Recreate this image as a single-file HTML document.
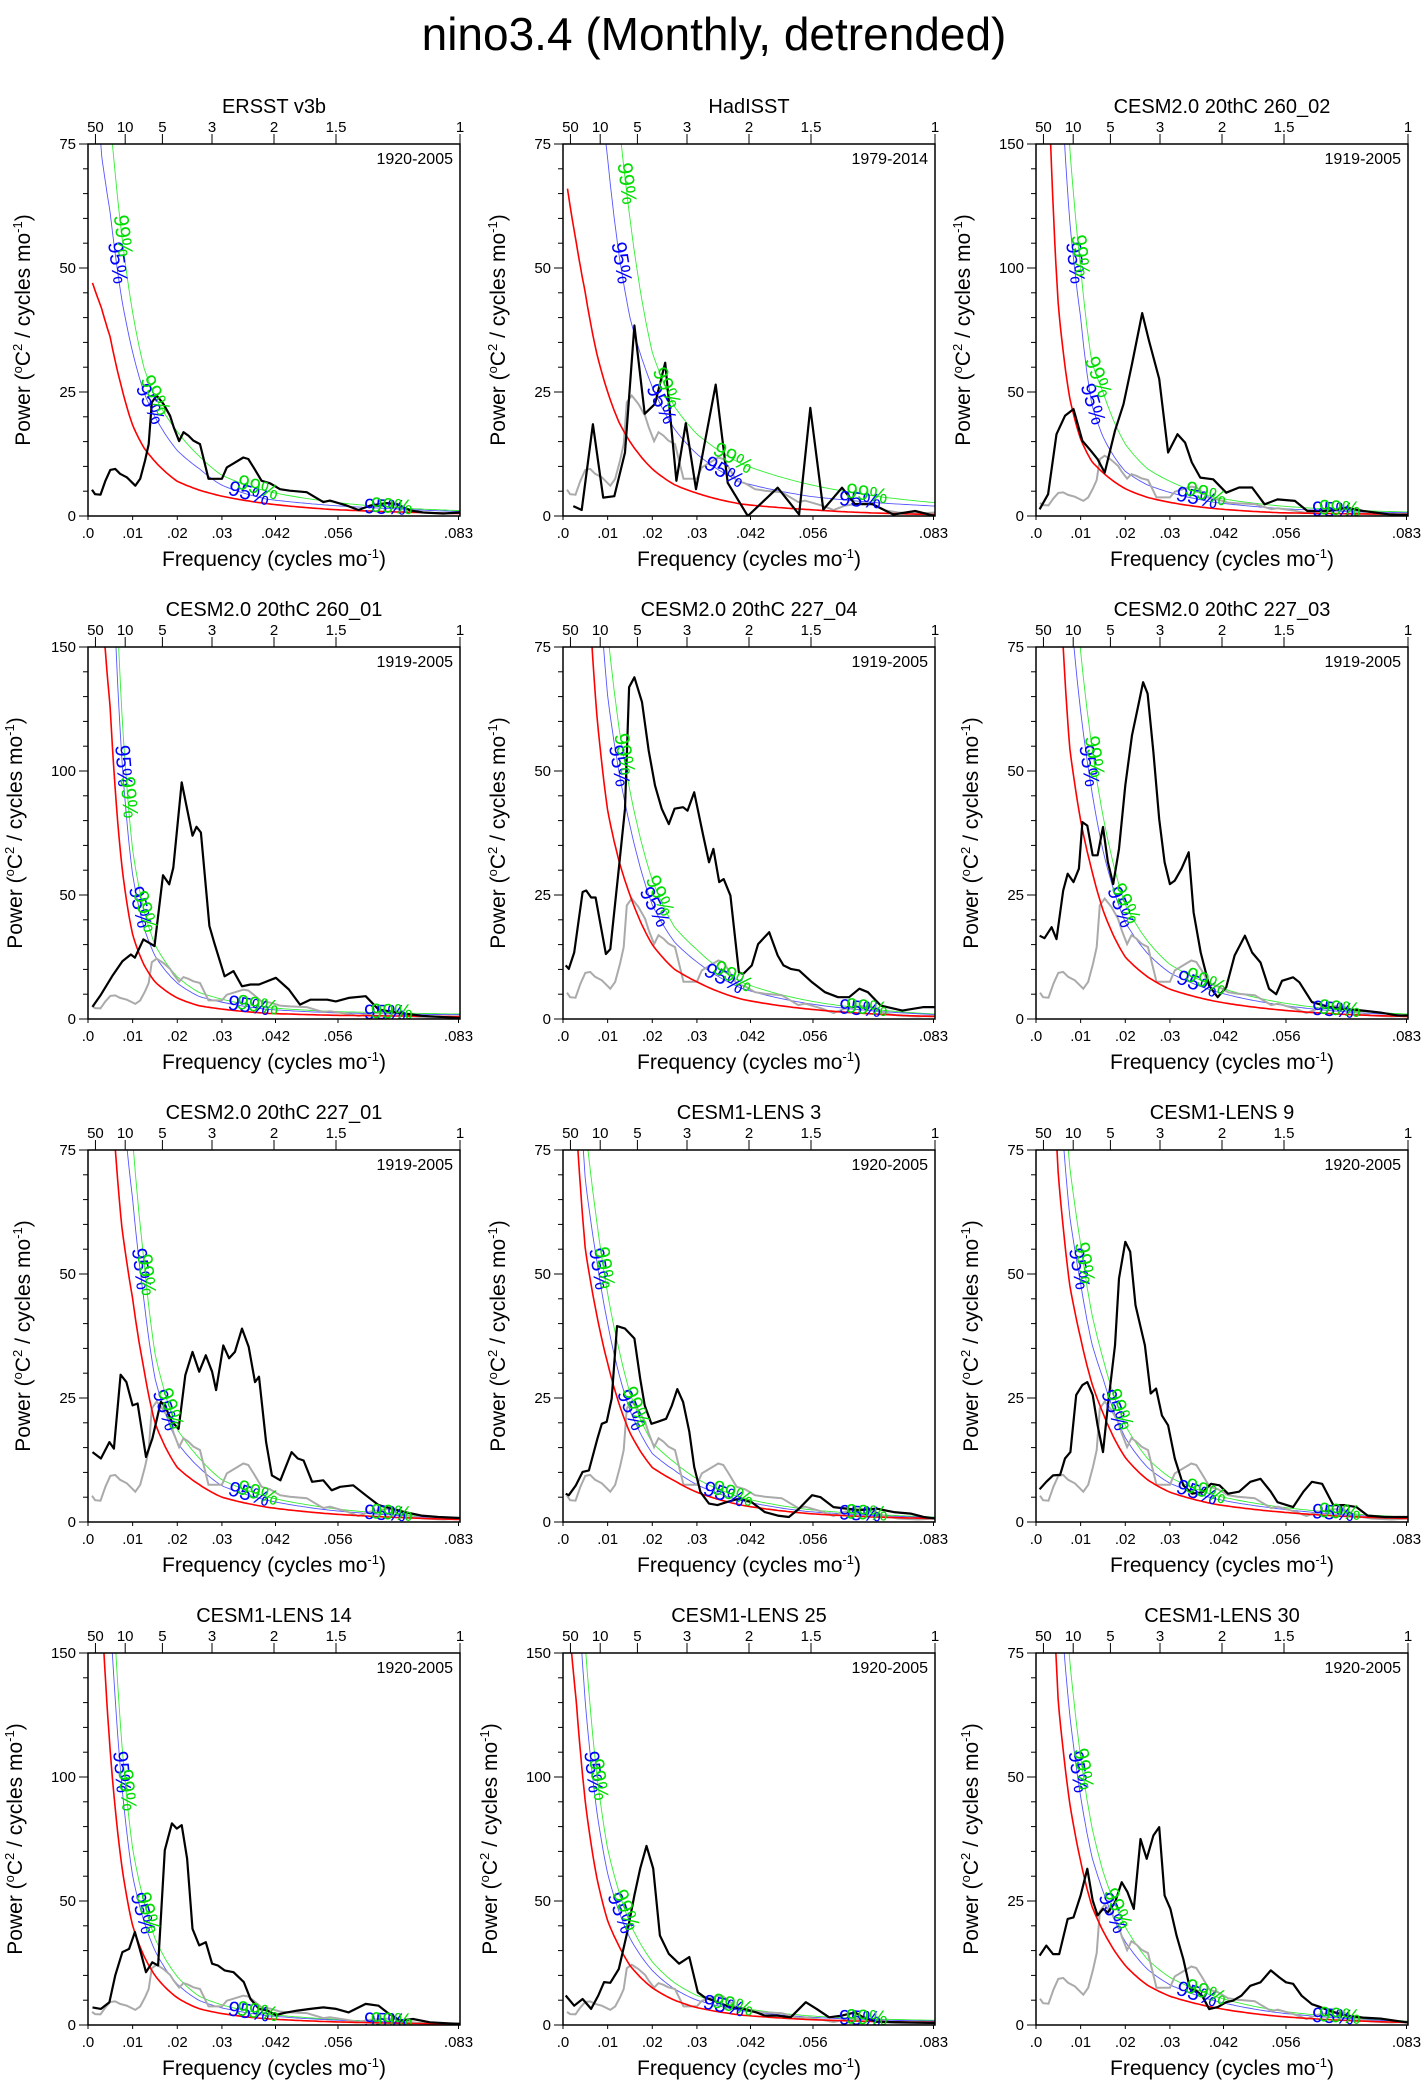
<!DOCTYPE html>
<html><head><meta charset="utf-8"><style>
html,body{margin:0;padding:0;background:#fff;}
svg{display:block;font-family:"Liberation Sans",sans-serif;}
</style></head><body>
<svg id="chart" width="1428" height="2091" viewBox="0 0 1428 2091" xmlns="http://www.w3.org/2000/svg">
<text x="714" y="50" text-anchor="middle" font-size="46">nino3.4 (Monthly, detrended)</text>
</svg>
<script>
// shared frequency grid for red-noise / significance curves
const curveF = [0.001,0.003,0.005,0.0075,0.01,0.0125,0.015,0.02,0.025,0.03,0.04,0.055,0.07,0.0833];
const periodTicks = [50,10,5,3,2,1.5,1];
const xTickVals = [0,0.01,0.02,0.03,0.042,0.056,0.083];
const xTickLabels = [".0",".01",".02",".03",".042",".056",".083"];

// ERSST (also drawn gray in other panels)
const f1 = [.0009,.0016,.0028,.0039,.005,.0061,.0072,.0087,.0106,.0117,.0128,.0136,.0143,.0154,.0169,.0184,.0192,.0204,.0214,.0225,.0236,.0251,.027,.03,.0311,.0326,.0348,.0359,.0371,.0389,.0408,.043,.0452,.049,.0527,.0542,.058,.0606,.0632,.0669,.0692,.0722,.0751,.0796,.0833];
const p1 = [5.3,4.4,4.3,7.1,9.3,9.5,8.5,7.8,6.1,7.5,11.2,14.5,22.9,24.3,22.6,20.2,17.9,15.1,16.9,16.2,15.2,14.5,7.5,7.5,9.8,10.6,11.8,11.5,9.8,7.1,6.6,5.4,5.1,4.8,2.8,3.1,2.1,1.2,2.1,2.6,2.4,1.1,0.7,0.5,0.7];
const red1 = [47,42,36,26,18.3,13.8,11,7,5.2,4,2.5,1.3,0.8,0.5];
const blue1 = [110,73,61,44,33,25,20,13.2,9.5,6.2,3.4,2.1,1.4,0.9];
const green1 = [140,95,80,57,41,30,24,17,12,8.2,5,2.8,1.6,1.1];

// HadISST
const f2 = [.0023,.0042,.0067,.009,.0115,.0139,.016,.0183,.0206,.0229,.0254,.0275,.0298,.0342,.0369,.0414,.0481,.0529,.0554,.0583,.0625,.0654,.0693,.074,.0789,.0833];
const p2 = [2.0,1.2,18.5,3.7,4.0,12.8,38.4,20.6,22.6,30.9,7.1,18.7,5.4,26.5,6.7,0,5.7,0.3,21.8,1.3,5.7,2.4,2.4,0.3,1.0,0];
const red2 = [66,55,45,33,25,19,15,9.5,6.3,4.6,2.4,1.3,0.6,0.3];
const blue2 = [200,160,120,95,72,53,40,26,17.5,12.5,6.8,4,2.7,2];
const green2 = [300,250,200,150,110,80,60,33,22,16.5,10.5,6.4,4,2.7];

// CESM2.0 20thC 260_02
const f3 = [.0008,.0027,.0046,.0065,.0084,.0104,.0123,.0138,.0154,.0177,.0196,.0215,.0238,.0253,.0276,.0296,.0317,.0334,.0349,.0368,.0397,.0426,.0455,.0484,.0512,.0541,.058,.0608,.0656,.0695,.0733,.079,.0833];
const p3 = [2.7,8.8,33,40.4,43.1,30.3,26.3,22.9,17.5,34.4,45.1,61.3,81.8,70.8,55.3,25.6,33,29.6,21.6,15.5,14.8,9.4,11.5,11.5,4.7,6.7,6.1,2,2,3.4,2,0.7,0.4];
const red3 = [300,165,85,48,31,22,17.5,11,7.5,5.5,3,1.3,0.9,0.7];
const blue3 = [600,350,200,120,80,45,32,18,12.5,9.5,5.5,3,1.8,1.3];
const green3 = [800,450,260,150,100,62,50,29,19,14,7.5,4,2.4,1.6];

// CESM2.0 20thC 260_01
const f4 = [.001,.0029,.0054,.0077,.0096,.0105,.0124,.0149,.0168,.0182,.0191,.021,.0234,.0243,.0253,.0272,.0283,.0306,.0326,.0345,.0364,.0383,.0421,.045,.0475,.0498,.0536,.0555,.0584,.0622,.0651,.0699,.0747,.0833];
const p4 = [4.9,9.8,17.2,23.3,26,24.7,32.1,29.4,58,54.3,61,95.4,73.9,77.5,75.2,37.5,30.7,17.2,19.3,13.2,13.9,13.9,16.6,11.9,5.8,7.8,7.8,7.1,8.5,9.2,3.8,2.4,1.3,0.4];
const red4 = [400,170,125,63,34,22,15,8.5,5.3,4,2.3,1.5,1.2,1];
const blue4 = [680,290,212,107,58,37,25.5,14.5,9,6.8,3.9,2.5,2,1.7];
const green4 = [800,340,250,126,68,44,30,17,10.6,8,4.6,3,2.4,2];

// CESM2.0 20thC 227_04
const f5 = [.0006,.0013,.0025,.0044,.0052,.0063,.0073,.0083,.0096,.0106,.0125,.0139,.0148,.016,.0177,.0192,.0206,.0221,.0237,.025,.0269,.0279,.0294,.0314,.0327,.0337,.035,.036,.0375,.0394,.0404,.0423,.0437,.0462,.0481,.0494,.051,.0529,.0558,.0587,.0616,.0641,.0664,.0683,.0712,.076,.0808,.0833];
const p5 = [10.8,10.1,13.4,25.6,25.9,24.5,24.5,19.5,13.1,14.1,30.3,42.4,66.9,68.9,63.9,54.1,47.1,42.4,39.3,42.4,42.7,42,45.7,37,31.6,34.3,27.6,28.2,24.9,9.4,9.1,10.8,15.1,17.5,12.8,10.8,10.1,9.8,7.4,5.4,4.4,4.4,6.1,5.4,2.7,1.7,2.4,2.4];
const red5 = [400,160,100,62,42,32,25,15,10,7.5,4,2,1,0.5];
const blue5 = [620,250,155,96,65,50,39,23,15.5,11.5,6.2,3.1,1.6,0.9];
const green5 = [740,300,185,115,78,59,46,28,18.5,14,7.4,3.7,1.9,1.0];

// CESM2.0 20thC 227_03
const f6 = [.0008,.0019,.0035,.0046,.0061,.0071,.0084,.0096,.0104,.0115,.0127,.0138,.015,.0161,.0173,.0186,.02,.0215,.023,.024,.025,.0263,.0276,.0288,.03,.0311,.0326,.0342,.0353,.0369,.0388,.0407,.0426,.0445,.0468,.0484,.0503,.0522,.0538,.0551,.0576,.059,.0618,.0657,.0695,.0733,.0772,.081,.0833];
const p6 = [16.8,16.3,18.5,16.1,25.9,29.3,27.6,30.3,39.7,39,33,33,38.7,31.6,27.2,34.3,47.1,57.2,63.6,67.9,65.6,53.8,40.3,31.6,27.2,27.9,30.3,33.6,21.5,13.4,6.7,4.4,6.4,12.8,16.8,13.4,11.4,6.1,5,7.7,8.4,7.4,3.4,2.4,2,1.7,1.3,0.7,0.7];
const red6 = [400,140,95,55,40,30,22,12.5,8.5,6,3.6,1.8,0.9,0.5];
const blue6 = [620,220,147,85,62,46,34,19.5,13.2,9.3,5.6,2.8,1.4,0.8];
const green6 = [740,260,175,102,74,55,41,23,15.7,11,6.7,3.3,1.7,1.0];

// CESM2.0 20thC 227_01
const f7 = [.001,.0029,.0048,.0058,.0073,.0086,.01,.0111,.013,.0144,.0163,.0172,.0188,.0203,.0218,.0234,.0249,.0264,.0278,.0287,.0303,.0316,.0329,.0345,.036,.0374,.0383,.0399,.0412,.0431,.0456,.047,.0483,.0502,.0527,.0546,.0565,.0594,.0622,.0651,.068,.0709,.0747,.0785,.0833];
const p7 = [14.1,12.8,16.1,14.8,29.7,28.2,23.5,23.9,13.1,16.8,24.2,23.5,20.2,18.8,29.6,34.3,30.3,33.6,30.3,26.6,35.6,33,34.3,39,35.3,28.2,29.3,16.1,9.4,8.4,14.1,12.8,12.4,8.1,8.4,6.4,7.1,7.4,5.4,3.4,2.7,2,1.3,1,0.8];
const red7 = [400,140,90,60,45,31,20,11,7.5,5,3,1.6,0.9,0.5];
const blue7 = [580,203,130,87,65,45,29,16,10.9,7.3,4.4,2.3,1.3,0.7];
const green7 = [680,238,153,102,77,53,34,18.7,12.8,8.5,5.1,2.7,1.5,0.9];

// CESM1-LENS 3
const f8 = [.0006,.0013,.0029,.0044,.0058,.0077,.0087,.0098,.0109,.0121,.0139,.016,.0173,.0183,.0198,.0212,.0231,.0244,.0256,.0269,.0283,.0294,.0308,.0327,.0346,.0366,.0394,.0423,.0452,.0481,.0506,.0529,.0558,.0577,.0606,.0635,.0664,.0702,.0741,.0779,.0808,.0833];
const p8 = [5.7,5.4,7.4,10.1,10.4,16.8,19.8,20.2,24.9,39.5,39,37,28.9,23.5,19.8,20.2,20.8,23.5,26.8,24.2,18.2,11.1,6,3.7,3.4,4,4.7,4,2,1.3,1,2.7,5.4,5,3,2.7,2.4,2.7,2,1.7,1,0.7];
const red8 = [120,80,55,42,32,24,18,11,8.3,6,3.4,1.7,1,0.7];
const blue8 = [150,100,69,53,40,30,22.5,13.8,10.4,7.5,4.3,2.1,1.3,0.9];
const green8 = [174,116,80,61,46,35,26,16,12,8.7,4.9,2.5,1.5,1.0];

// CESM1-LENS 9
const f9 = [.0008,.0023,.0038,.0054,.0065,.0077,.009,.0104,.0115,.0127,.0138,.015,.0161,.0177,.0186,.02,.0211,.0223,.0244,.0257,.0269,.0282,.0296,.0311,.033,.035,.0373,.0392,.0411,.043,.0455,.048,.0503,.0526,.0541,.0576,.0599,.0618,.0641,.0666,.0691,.0718,.0743,.0781,.0833];
const p9 = [6.6,8.1,9.4,9.5,12.8,14.1,25.6,27.6,28.2,25.6,19.5,14.1,23.5,35.6,49.1,56.5,54.5,43.7,35.6,25.9,26.9,21.5,19.5,12.8,7.4,5.7,6,7.7,7.4,5.7,6.1,8.1,8.7,6.1,4,3,6.1,8.1,7.7,3.4,3.4,3,1.3,1,1];
const red9 = [200,110,70,48,37,28,22,13,8.5,6,3.6,2,1.1,0.7];
const blue9 = [260,143,91,62,48,36,29,17,11,7.8,4.7,2.6,1.4,0.9];
const green9 = [300,165,105,72,56,42,33,19.5,12.8,9,5.4,3,1.7,1.0];

// CESM1-LENS 14
const f10 = [.001,.0029,.0048,.0061,.0077,.0092,.0105,.0119,.013,.0144,.0157,.0172,.0188,.0199,.021,.0222,.0234,.0249,.0264,.0278,.0291,.0306,.0326,.0349,.0364,.0383,.0402,.0421,.0441,.0469,.0498,.0527,.0556,.0584,.0622,.0651,.067,.0699,.0728,.0766,.0833];
const p10 = [7.1,6.5,9.2,19.9,29.4,30.7,37.5,28.7,21.3,25.3,24,70.5,81.3,79.2,80.6,67.1,38.8,32.1,33.4,24.7,24,22,21.3,17.3,10.5,6.5,5.8,4,4.9,5.8,6.5,7.1,6.5,5.1,8.5,7.8,5.1,1.8,2.4,1.1,0.4];
const red10 = [400,170,110,65,40,28,20,11,6.5,4.6,2.5,1.3,0.7,0.4];
const blue10 = [600,255,165,98,60,42,30,16.5,9.8,6.9,3.8,2,1.1,0.6];
const green10 = [700,300,195,115,71,50,35,19.5,11.5,8.1,4.4,2.3,1.2,0.7];

// CESM1-LENS 25
const f11 = [.0006,.0025,.0044,.0063,.0079,.0092,.0106,.0125,.0144,.016,.0173,.0187,.0202,.0217,.0237,.026,.0283,.0302,.0317,.0346,.0375,.0404,.0433,.0452,.0481,.051,.0544,.0568,.0596,.0625,.0654,.0673,.0702,.076,.0833];
const p11 = [11.9,7.8,10.5,6.5,11.9,17.3,17,22.6,37.5,52.3,63.1,72.2,63.1,36.1,28.7,24.7,27.4,13.2,11.2,9.2,7.1,6.5,5.1,3.8,3.8,3.1,9.2,6.5,3.1,3.8,5.1,3.1,1.3,1.1,0.8];
const red11 = [170,130,90,60,42,32,24,15,10,7,4,2.2,1.4,1.1];
const blue11 = [246,188,130,87,61,46,35,22,14.5,10,5.8,3.2,2,1.6];
const green11 = [290,220,153,102,71,54,41,25.5,17,11.9,6.8,3.7,2.4,1.9];

// CESM1-LENS 30
const f12 = [.0008,.0023,.0038,.0052,.0071,.0084,.01,.0115,.0127,.0138,.015,.0161,.0177,.0192,.0205,.0219,.0234,.0248,.0263,.0276,.0288,.0301,.0315,.033,.0345,.0359,.0372,.0388,.0407,.0426,.0441,.046,.048,.0503,.0526,.0545,.056,.0576,.0595,.0618,.0637,.0666,.0695,.0733,.0772,.0833];
const p12 = [14,16,14.3,14.3,21.4,21.7,26.1,31.5,25.1,22.1,23.4,22.7,24.7,28.8,26.8,23.4,37.5,33.5,38.2,39.9,26.1,23.4,18,13.3,7.3,6.9,5.9,3.2,3.6,4.6,4.9,5.9,7.9,8.6,11,9.6,8.6,8.3,5.9,4.2,3.6,2.6,1.9,1.5,1.3,0.5];
const red12 = [200,110,65,45,33,24,19,12,8,5.8,3.5,1.7,0.9,0.5];
const blue12 = [280,154,91,63,46,34,27,16.8,11.2,8.1,4.9,2.4,1.3,0.7];
const green12 = [330,182,107,74,54,40,31,19.8,13.2,9.6,5.8,2.8,1.5,0.8];

const panelTitles = ["ERSST v3b","HadISST","CESM2.0 20thC 260_02","CESM2.0 20thC 260_01","CESM2.0 20thC 227_04","CESM2.0 20thC 227_03","CESM2.0 20thC 227_01","CESM1-LENS 3","CESM1-LENS 9","CESM1-LENS 14","CESM1-LENS 25","CESM1-LENS 30"];
const panelYears = ["1920-2005","1979-2014","1919-2005","1919-2005","1919-2005","1919-2005","1919-2005","1920-2005","1920-2005","1920-2005","1920-2005","1920-2005"];
const panelYMax = [75,75,150,150,75,75,75,75,75,150,150,75];

const blackF = [f1,f2,f3,f4,f5,f6,f7,f8,f9,f10,f11,f12];
const blackP = [p1,p2,p3,p4,p5,p6,p7,p8,p9,p10,p11,p12];
const redS = [red1,red2,red3,red4,red5,red6,red7,red8,red9,red10,red11,red12];
const blueS = [blue1,blue2,blue3,blue4,blue5,blue6,blue7,blue8,blue9,blue10,blue11,blue12];
const greenS = [green1,green2,green3,green4,green5,green6,green7,green8,green9,green10,green11,green12];

const NS = "http://www.w3.org/2000/svg";
const svg = document.getElementById('chart');
const colL = [88,563,1036], rowT = [144,647,1150,1653], SZ = 372, FMAX = 1/12;

function mk(tag, attrs, parent){ const e=document.createElementNS(NS,tag); for(const k in attrs) e.setAttribute(k,attrs[k]); parent.appendChild(e); return e; }

function interpCurve(vals, f){
  if (f<=curveF[0]) return vals[0];
  for(let i=1;i<curveF.length;i++){
    if(f<=curveF[i]){ const t=(f-curveF[i-1])/(curveF[i]-curveF[i-1]);
      return Math.exp(Math.log(vals[i-1])*(1-t)+Math.log(vals[i])*t); }
  }
  return vals[vals.length-1];
}

for(let p=0;p<12;p++){
  const L=colL[p%3], T=rowT[Math.floor(p/3)], B=T+SZ, R=L+SZ, ymax=panelYMax[p];
  const xs = f => L + f/FMAX*SZ;
  const ys = v => B - v/ymax*SZ;
  const g = mk('g',{},svg);
  
  
  const cid='clip'+p;
  const cp=mk('clipPath',{id:cid},g); mk('rect',{x:L,y:T,width:SZ,height:SZ},cp);
  const plot=mk('g',{'clip-path':'url(#'+cid+')'},g);

  function curvePath(vals){ let d=''; const n=160;
    for(let i=0;i<=n;i++){ const f=curveF[0]+(FMAX-curveF[0])*Math.pow(i/n,1.6); const v=Math.min(interpCurve(vals,f),ymax*3);
      d+=(i?'L':'M')+xs(f).toFixed(1)+','+ys(v).toFixed(1);} return d; }
  function linePath(F,P){ return F.map((f,i)=>(i?'L':'M')+xs(f).toFixed(1)+','+ys(P[i]).toFixed(1)).join(''); }

  const gc=mk('path',{d:curvePath(greenS[p]),fill:'none',stroke:'#33ee33','stroke-width':0.9},plot);
   
  const bc=mk('path',{d:curvePath(blueS[p]),fill:'none',stroke:'#5555ff','stroke-width':0.9},plot);
   
  if(p>0){ const gr=mk('path',{d:linePath(f1,p1),fill:'none',stroke:'#aaaaaa','stroke-width':2},plot);
      }
  const rc=mk('path',{d:curvePath(redS[p]),fill:'none',stroke:'#ff0000','stroke-width':1.6},plot);
   
  const bl=mk('path',{d:linePath(blackF[p],blackP[p]),fill:'none',stroke:'#000','stroke-width':2.2,'stroke-linejoin':'round'},plot);
   

  function findF(vals,target){ let lo=curveF[0],hi=FMAX; for(let k=0;k<40;k++){const m=(lo+hi)/2; if(interpCurve(vals,m)>target) lo=m; else hi=m;} return (lo+hi)/2; }
  function addLabel(vals,f,txt,col){ const x=xs(f), y=ys(interpCurve(vals,f));
    const x2=xs(f+0.0005), y2=ys(interpCurve(vals,f+0.0005)); const ang=Math.atan2(y2-y,x2-x)*180/Math.PI;
    const t=mk('text',{x:x.toFixed(1),y:y.toFixed(1),'font-size':21,fill:col,'text-anchor':'middle','dominant-baseline':'middle',transform:'rotate('+ang.toFixed(1)+' '+x.toFixed(1)+' '+y.toFixed(1)+')'},plot);
    t.textContent=txt;   }
  const fb1=findF(blueS[p],ymax*0.68), fb2=findF(blueS[p],ymax*0.3);
  addLabel(blueS[p],fb1,'95%','#0000ff'); addLabel(greenS[p],fb1+0.0012,'99%','#00dd00');
  addLabel(blueS[p],fb2,'95%','#0000ff'); addLabel(greenS[p],fb2+0.0012,'99%','#00dd00');
  addLabel(blueS[p],0.036,'95%','#0000ff'); addLabel(greenS[p],0.038,'99%','#00dd00');
  addLabel(blueS[p],0.0665,'95%','#0000ff'); addLabel(greenS[p],0.068,'99%','#00dd00');

  const fr=mk('rect',{x:L,y:T,width:SZ,height:SZ,fill:'none',stroke:'#000','stroke-width':1.5},g);
   

  const minor = ymax/15, major = ymax/3;
  for(let v=0; v<=ymax+0.01; v+=minor){ const isMaj = Math.abs(v/major-Math.round(v/major))<1e-6;
    mk('line',{x1:L-(isMaj?9:5),x2:L,y1:ys(v),y2:ys(v),stroke:'#000','stroke-width':1},g);
    if(isMaj){ const t=mk('text',{x:L-12,y:ys(v)+5,'text-anchor':'end','font-size':15},g); t.textContent=String(Math.round(v));
        } }
  xTickVals.forEach((f,i)=>{ mk('line',{x1:xs(f),x2:xs(f),y1:B,y2:B+4,stroke:'#000','stroke-width':1},g);
    const t=mk('text',{x:xs(f),y:B+22,'text-anchor':'middle','font-size':15},g); t.textContent=xTickLabels[i];
      });
  periodTicks.forEach(per=>{ const f=1/(12*per); mk('line',{x1:xs(f),x2:xs(f),y1:T-10,y2:T,stroke:'#000','stroke-width':1},g);
    const t=mk('text',{x:xs(f),y:T-12,'text-anchor':'middle','font-size':15},g); t.textContent=String(per);
      });

  const tt=mk('text',{x:L+SZ/2,y:T-31,'text-anchor':'middle','font-size':20},g); tt.textContent=panelTitles[p];
   
  const yr=mk('text',{x:R-7,y:T+20,'text-anchor':'end','font-size':16},g); yr.textContent=panelYears[p];
   

  const xt=mk('text',{x:L+SZ/2,y:B+50,'text-anchor':'middle','font-size':21},g);
  xt.innerHTML='Frequency (cycles mo<tspan dy="-8" font-size="13">-1</tspan><tspan dy="8">)</tspan>';
   
  const yx = L-(ymax>100?66:58), yc=T+SZ/2;
  const yt=mk('text',{x:yx,y:yc,'text-anchor':'middle','font-size':21,transform:'rotate(-90 '+yx+' '+yc+')'},g);
  yt.innerHTML='Power (<tspan dy="-8" font-size="13">o</tspan><tspan dy="8">C</tspan><tspan dy="-8" font-size="13">2</tspan><tspan dy="8"> / cycles mo</tspan><tspan dy="-8" font-size="13">-1</tspan><tspan dy="8">)</tspan>';
   
}
</script>
</body></html>
